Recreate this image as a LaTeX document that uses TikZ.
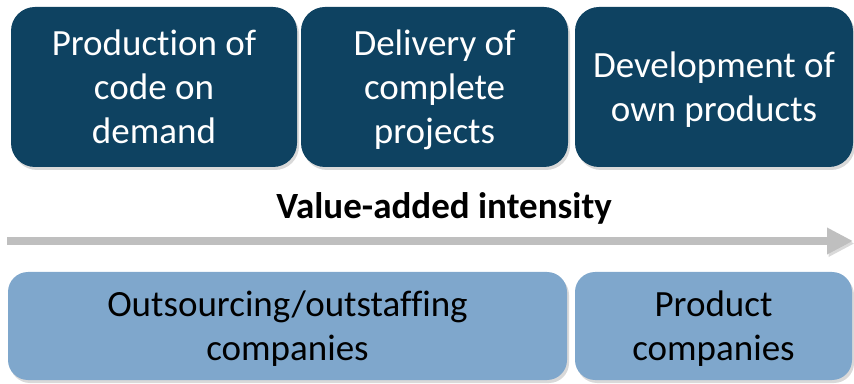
\documentclass[tikz,border=0pt]{standalone}
\usepackage{fontspec}
\setmainfont{Carlito}[Ligatures=NoCommon]
\usetikzlibrary{arrows.meta,shadows}

\definecolor{stagecol}{RGB}{14,66,97}
\definecolor{typecol}{RGB}{127,167,204}
\definecolor{arrowcol}{RGB}{191,191,191}

\begin{document}
\begin{tikzpicture}[
  x=1pt,
  y=1pt,
  line cap=round,
  line join=round,
  stagebox/.style={
    fill=stagecol,
    text=white,
    rounded corners=24pt,
    minimum height=160pt,
    inner sep=0pt,
    text depth=0pt,
    align=center,
    font=\fontsize{37}{44}\selectfont,
    drop shadow={shadow xshift=2pt,shadow yshift=-3pt,opacity=0.3}
  },
  typebox/.style={
    fill=typecol,
    text=black,
    rounded corners=20pt,
    minimum height=108pt,
    inner sep=0pt,
    text depth=0pt,
    align=center,
    font=\fontsize{37}{44}\selectfont,
    drop shadow={shadow xshift=2pt,shadow yshift=-3pt,opacity=0.3}
  },
  valuearrow/.style={
    draw=arrowcol,
    line width=8pt,
    line cap=butt,
    -{Triangle[length=26pt,width=25pt]},
    preaction={
      draw=black,
      opacity=0.15,
      transform canvas={shift={(1.5pt,-2.5pt)}}
    }
  },
  title/.style={
    font=\fontsize{37}{44}\selectfont\bfseries
  }
]

  % 画布范围
  \path[use as bounding box]
    (0,0) rectangle (854,383);

  % 上排：价值链环节
  \node[stagebox,minimum width=286pt] (code) at (154,296)
    {Production of\\code on\\demand};

  \node[stagebox,minimum width=267pt] (projects) at (434.5,296)
    {Delivery of\\complete\\projects};

  \node[stagebox,minimum width=278pt] (products) at (714,296)
    {Development of\\own products};

  % 标题
  \node[title] (intensity) at (444,175) {Value-added intensity};

  % 增值箭头
  \coordinate (low) at (7,142);
  \coordinate (high) at (853,142);

  \draw[valuearrow] (low) -- (high);

  % 下排：公司类型
  \node[typebox,minimum width=559pt] (outsourcing) at (287.5,57)
    {Outsourcing/outstaffing\\companies};

  \node[typebox,minimum width=277pt] (product) at (713.5,57)
    {Product\\companies};

\end{tikzpicture}
\end{document}
